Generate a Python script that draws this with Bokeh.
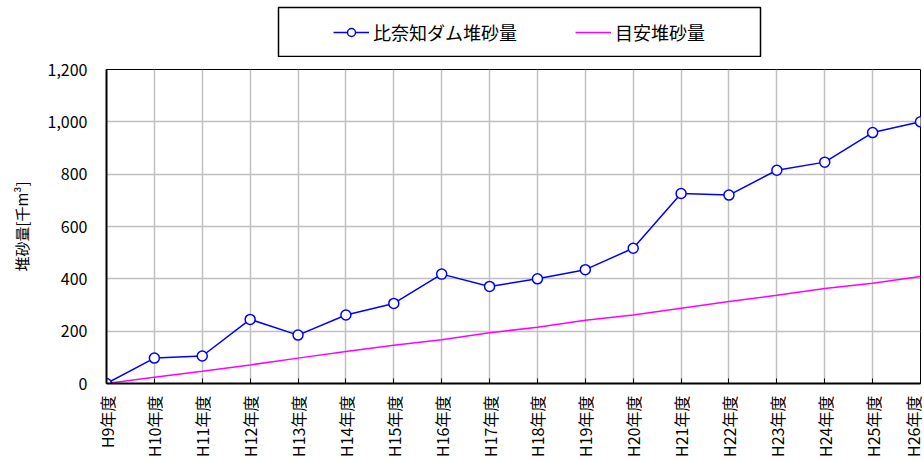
import math
from bokeh.plotting import figure
from bokeh.models import (Range1d, FixedTicker, NumeralTickFormatter, Legend, LegendItem,
                          ColumnDataSource)
from bokeh.embed import file_html
from bokeh.resources import INLINE

years = ["H9年度", "H10年度", "H11年度", "H12年度", "H13年度", "H14年度", "H15年度",
         "H16年度", "H17年度", "H18年度", "H19年度", "H20年度", "H21年度", "H22年度",
         "H23年度", "H24年度", "H25年度", "H26年度"]
actual = [0, 97, 105, 245, 185, 262, 306, 418, 371, 400, 435, 517, 726, 720, 815, 846, 959, 1000]
target = [0, 24, 47, 71, 97, 122, 146, 167, 194, 215, 242, 262, 288, 313, 337, 363, 383, 409]
y_ticks = [0, 200, 400, 600, 800, 1000, 1200]
series_names = ["比奈知ダム堆砂量", "目安堆砂量"]

FONT = "Noto Sans CJK JP"
BLUE = "#0000FF"
MAGENTA = "#FF00FF"
xs = list(range(len(years)))
src = ColumnDataSource(dict(x=xs, actual=actual, target=target))

# ---- main chart ----
p = figure(frame_width=814, frame_height=314, output_backend="svg", toolbar_location=None,
           x_range=Range1d(0, len(years) - 1), y_range=Range1d(0, 1200),
           min_border_left=106, min_border_right=4, min_border_bottom=0, min_border_top=12)
p.background_fill_color = "white"
p.border_fill_color = "white"
p.outline_line_color = "black"
p.outline_line_width = 1

p.xaxis.ticker = FixedTicker(ticks=xs)
p.xaxis.major_label_overrides = {i: t for i, t in enumerate(years)}
p.xaxis.major_label_orientation = math.pi / 2
p.xaxis.major_label_text_font = FONT
p.xaxis.major_label_text_font_size = "16px"
p.xaxis.major_label_text_color = "black"
p.xaxis.major_tick_in = 5
p.xaxis.major_tick_out = 0
p.xaxis.major_tick_line_color = "black"
p.xaxis.minor_tick_line_color = None
p.xaxis.axis_line_width = 2
p.xaxis.axis_line_color = "black"
p.xaxis.major_label_standoff = 12

p.yaxis.ticker = FixedTicker(ticks=y_ticks)
p.yaxis.formatter = NumeralTickFormatter(format="0,0")
p.yaxis.major_label_text_font = FONT
p.yaxis.major_label_text_font_size = "16px"
p.yaxis.major_label_text_color = "black"
p.yaxis.major_tick_in = 0
p.yaxis.major_tick_out = 0
p.yaxis.minor_tick_line_color = None
p.yaxis.axis_line_width = 2
p.yaxis.axis_line_color = "black"
p.yaxis.major_label_standoff = 19
p.yaxis.axis_label = "堆砂量[千m³]"
p.yaxis.axis_label_text_font = FONT
p.yaxis.axis_label_text_font_size = "15px"
p.yaxis.axis_label_text_font_style = "normal"
p.yaxis.axis_label_text_color = "black"
p.yaxis.axis_label_standoff = 13

p.xgrid.grid_line_color = "#c0c0c0"
p.ygrid.grid_line_color = "#c0c0c0"
p.xgrid.grid_line_width = 1.5
p.ygrid.grid_line_width = 1.5

p.line("x", "target", source=src, line_color=MAGENTA, line_width=1.5)
p.line("x", "actual", source=src, line_color=BLUE, line_width=1.5)
p.scatter("x", "actual", source=src, marker="circle", size=10,
          fill_color="white", line_color=BLUE, line_width=1.5)

# ---- legend box (separate strip above the chart; its frame is the legend box) ----
lf = figure(width=924, height=57, output_backend="svg", toolbar_location=None,
            x_axis_type=None, y_axis_type=None,
            x_range=Range1d(0, len(years) - 1), y_range=Range1d(-3000, -2000),
            min_border_left=278, min_border_right=164, min_border_top=7, min_border_bottom=0)
lf.outline_line_color = "black"
lf.outline_line_width = 1.5
lf.background_fill_color = "white"
lf.border_fill_color = "white"
# renderers share the real data but lie outside this strip's range, so only their legend glyphs show
r1 = lf.line("x", "actual", source=src, line_color=BLUE, line_width=1.5)
r1c = lf.scatter("x", "actual", source=src, marker="circle", size=10,
                 fill_color="white", line_color=BLUE, line_width=1.5)
r2 = lf.line("x", "target", source=src, line_color=MAGENTA, line_width=1.5)
leg = Legend(items=[LegendItem(label=series_names[0], renderers=[r1, r1c]),
                    LegendItem(label=series_names[1], renderers=[r2])],
             orientation="horizontal", location="center",
             label_text_font=FONT, label_text_font_size="18px", label_text_color="black",
             glyph_width=36, glyph_height=20, spacing=58, padding=0, margin=0,
             label_standoff=4, border_line_color=None, background_fill_alpha=0)
lf.add_layout(leg)

open("out.html", "w").write(file_html([lf, p], INLINE))
